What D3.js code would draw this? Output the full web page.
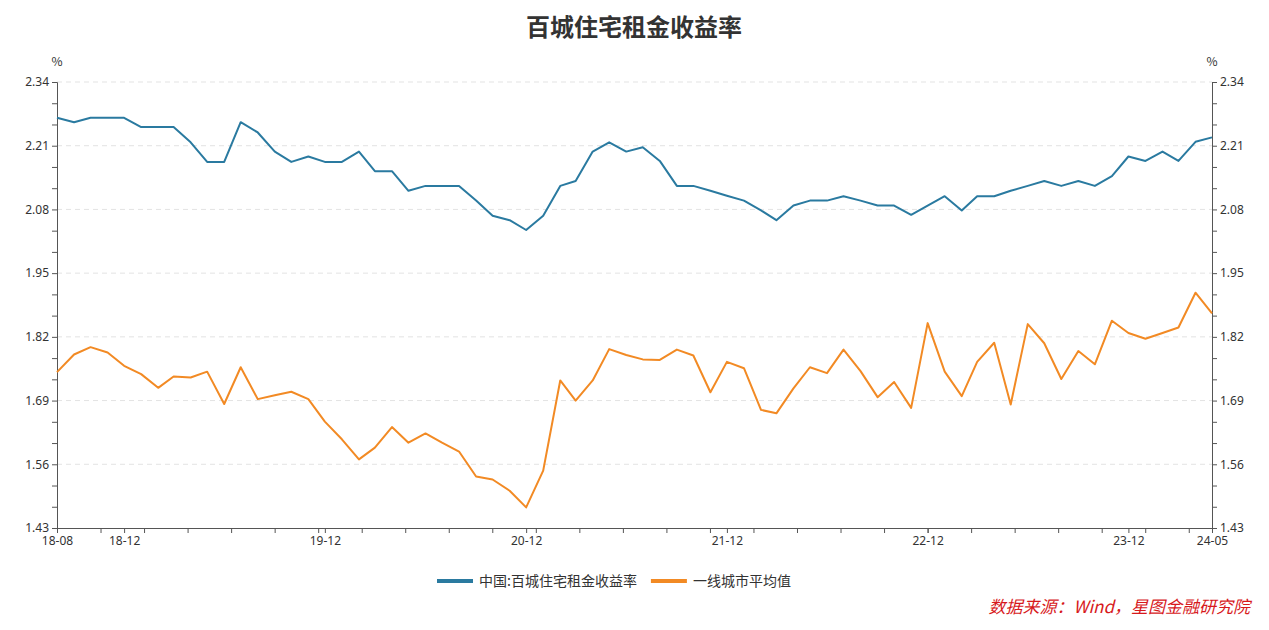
<!DOCTYPE html>
<html><head><meta charset="utf-8">
<script src="https://cdn.jsdelivr.net/npm/d3@7"></script>
<style>
body{margin:0;background:#fff;font-family:"Microsoft YaHei","Noto Sans CJK SC",sans-serif;}
</style></head>
<body><svg id="chart" width="1269" height="630"></svg>
<script>
const startMonth = new Date(2018, 7, 1);
const cityYield = [2.267,2.258,2.267,2.267,2.267,2.248,2.248,2.248,2.217,2.177,2.177,2.258,2.237,2.198,2.177,2.188,2.177,2.177,2.198,2.158,2.158,2.118,2.128,2.128,2.128,2.098,2.067,2.058,2.038,2.067,2.128,2.138,2.198,2.217,2.198,2.207,2.179,2.128,2.128,2.118,2.108,2.098,2.078,2.058,2.088,2.098,2.098,2.107,2.098,2.088,2.088,2.069,2.088,2.107,2.078,2.107,2.107,2.118,2.128,2.138,2.128,2.138,2.128,2.148,2.188,2.179,2.198,2.179,2.218,2.227];
const tier1Yield = [1.748,1.784,1.799,1.788,1.761,1.744,1.716,1.739,1.737,1.749,1.683,1.758,1.693,1.701,1.708,1.693,1.647,1.611,1.570,1.594,1.636,1.604,1.623,1.604,1.586,1.535,1.529,1.506,1.472,1.547,1.731,1.690,1.731,1.795,1.783,1.774,1.773,1.794,1.782,1.707,1.769,1.756,1.671,1.664,1.715,1.758,1.746,1.794,1.750,1.697,1.728,1.675,1.848,1.749,1.699,1.769,1.808,1.682,1.846,1.807,1.734,1.791,1.764,1.853,1.828,1.816,1.828,1.839,1.910,1.868];
const seriesNames = ["中国:百城住宅租金收益率", "一线城市平均值"];
const colors = ["#2a7aa0", "#f28a24"];
const yTicks = [1.43, 1.56, 1.69, 1.82, 1.95, 2.08, 2.21, 2.34];
const xLabels = ["2018-08","2018-12","2019-12","2020-12","2021-12","2022-12","2023-12","2024-05"];

const dates = cityYield.map((d, i) => d3.timeMonth.offset(startMonth, i));
const svg = d3.select("#chart");
const mLeft = 57, mRight = 1212, mTop = 82, mBottom = 528;

const x = d3.scaleTime().domain([dates[0], dates[dates.length - 1]]).range([mLeft, mRight]);
const y = d3.scaleLinear().domain([1.43, 2.34]).range([mBottom, mTop]);

// title
svg.append("text").attr("x", 634).attr("y", 36).attr("text-anchor", "middle")
  .attr("font-size", 24).attr("font-weight", "bold").attr("fill", "#333").text("百城住宅租金收益率");

// grid
svg.append("g").selectAll("line").data(yTicks.slice(1)).join("line")
  .attr("x1", mLeft).attr("x2", mRight).attr("y1", d => y(d)).attr("y2", d => y(d))
  .attr("stroke", "#e3e3e3").attr("stroke-dasharray", "5,4");

const minorY = d3.range(0, 22).map(i => 1.43 + i * 0.13 / 3);
const fmt = d3.format(".2f");
const isMajor = d => yTicks.some(t => Math.abs(t - d) < 1e-6);

const yl = d3.axisLeft(y).tickValues(minorY).tickSize(5).tickFormat(d => isMajor(d) ? fmt(d) : "");
const yr = d3.axisRight(y).tickValues(minorY).tickSize(5).tickFormat(d => isMajor(d) ? fmt(d) : "");
[[yl, mLeft], [yr, mRight]].forEach(([ax, px]) => {
  const g = svg.append("g").attr("transform", `translate(${px},0)`).call(ax);
  g.selectAll("path,line").attr("stroke", "#555");
  g.selectAll("text").attr("font-size", 12).attr("fill", "#333").attr("font-family", "Noto Sans, sans-serif");
});
svg.append("text").attr("x", mLeft).attr("y", 66).attr("text-anchor", "middle").attr("font-size", 12).attr("fill", "#333").text("%");
svg.append("text").attr("x", mRight).attr("y", 66).attr("text-anchor", "middle").attr("font-size", 12).attr("fill", "#333").text("%");

// x axis
const parse = d3.timeParse("%Y-%m");
const xTickDates = d3.range(0, 70, 2.6).map(m => new Date(startMonth.getTime() + m * 30.44 * 864e5));
const gx = svg.append("g").attr("transform", `translate(0,${mBottom})`)
  .call(d3.axisBottom(x).tickValues(xTickDates).tickSize(5).tickFormat(""));
gx.selectAll("path,line").attr("stroke", "#555");
const gx2 = svg.append("g").attr("transform", `translate(0,${mBottom})`)
  .call(d3.axisBottom(x).tickValues(xLabels.map(parse)).tickSize(5).tickFormat(d3.timeFormat("%y-%m")));
gx2.select("path").remove();
gx2.selectAll("line").attr("stroke", "#555");
gx2.selectAll("text").attr("font-size", 12).attr("fill", "#333").attr("font-family", "Noto Sans, sans-serif");

// lines
const line = d3.line().x((d, i) => x(dates[i])).y(d => y(d));
[cityYield, tier1Yield].forEach((s, k) => {
  svg.append("path").datum(s).attr("d", line).attr("fill", "none")
    .attr("stroke", colors[k]).attr("stroke-width", 2).attr("stroke-linejoin", "round");
});

// legend
const lg = svg.append("g").attr("transform", "translate(437,581)");
let off = 0;
seriesNames.forEach((n, k) => {
  const g = lg.append("g").attr("transform", `translate(${off},0)`);
  g.append("line").attr("x1", 0).attr("x2", 36).attr("stroke", colors[k]).attr("stroke-width", 4);
  const t = g.append("text").attr("x", 42).attr("y", 5).attr("font-size", 14).attr("fill", "#333").text(n);
  off += 42 + t.node().getComputedTextLength() + 14;
});

// source
svg.append("text").attr("x", 1250).attr("y", 613).attr("text-anchor", "end")
  .attr("font-size", 17).attr("font-style", "italic").attr("fill", "#d7191c")
  .text("数据来源：Wind，星图金融研究院");
</script></body></html>
